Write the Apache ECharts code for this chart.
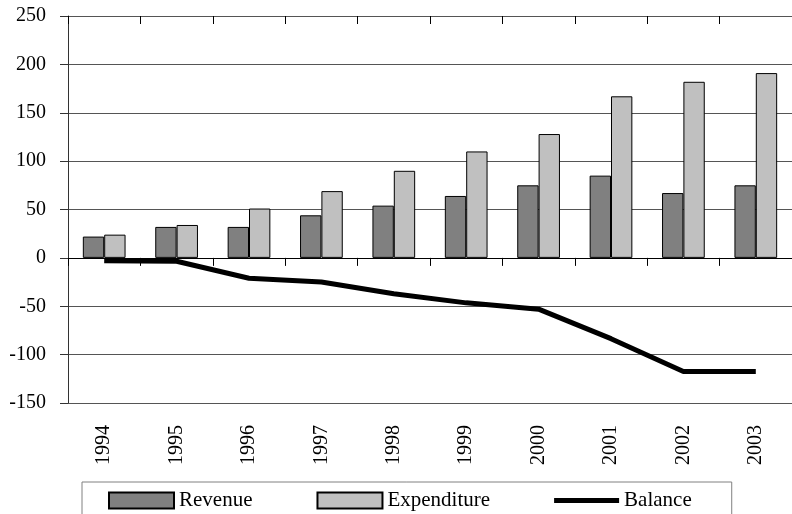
<!DOCTYPE html>
<html>
<head>
    <meta charset="UTF-8">
    <title>index.html</title>
    <script src="https://cdn.jsdelivr.net/npm/echarts@6/dist/echarts.min.js"></script>
    <style>
        body { margin: 0; background: #fff; }
    </style>
</head>
<body>
<div id="budgetChart" style="width: 792px;height:514px;"></div>
<script>
    // years on the category axis
    var years = ['1994', '1995', '1996', '1997', '1998', '1999', '2000', '2001', '2002', '2003'];
    // values
    var revenue = [22, 32, 32, 44, 54, 64, 75, 85, 67, 75];
    var expenditure = [24, 34, 51, 69, 90, 110, 128, 167, 182, 191];
    var balance = [-3, -3.5, -21, -25, -37, -46.5, -53, -83.5, -117.5, -117.5];
    var yTicks = [-150, -100, -50, 0, 50, 100, 150, 200, 250];

    var serif = 'Liberation Serif';
    var budgetChart = echarts.init(document.getElementById('budgetChart'));

    var option = {
        animation: false,
        backgroundColor: '#fff',
        textStyle: { fontFamily: serif },
        grid: { left: 68, right: -8, top: 16, bottom: 111, containLabel: false },
        legend: {
            left: 82,
            top: 482,
            padding: [8, 40, 12, 26],
            borderColor: '#808080',
            borderWidth: 1,
            itemWidth: 65,
            itemHeight: 16,
            itemGap: 64,
            textStyle: { fontFamily: serif, fontSize: 21, color: '#000' },
            data: [
                { name: 'Revenue', icon: 'rect' },
                { name: 'Expenditure', icon: 'rect' },
                { name: 'Balance', icon: 'path://M0,0H65V5H0Z', itemStyle: { color: '#000', borderWidth: 0 } }
            ]
        },
        xAxis: [
            {
                // axis through zero, ticks hanging down
                type: 'category',
                data: years,
                axisLine: { onZero: true, lineStyle: { color: '#000', width: 1 } },
                axisTick: { show: true, length: 8, lineStyle: { color: '#000' } },
                axisLabel: { show: false },
                splitLine: { show: false }
            },
            {
                // labels at the bottom
                type: 'category',
                data: years,
                position: 'bottom',
                axisLine: { show: false, onZero: false },
                axisTick: { show: false },
                axisLabel: {
                    rotate: 90,
                    margin: 22,
                    fontFamily: serif,
                    fontSize: 20,
                    color: '#000'
                }
            },
            {
                // upper half of the crossing ticks
                type: 'category',
                data: years,
                axisLine: { show: false, onZero: true },
                axisTick: { show: true, inside: true, length: 8, lineStyle: { color: '#000' } },
                axisLabel: { show: false }
            }
        ],
        yAxis: {
            type: 'value',
            min: yTicks[0],
            max: yTicks[yTicks.length - 1],
            interval: 50,
            axisLine: { show: true, lineStyle: { color: '#333', width: 1 } },
            axisTick: { show: true, length: 8, lineStyle: { color: '#333' } },
            axisLabel: { margin: 22, fontFamily: serif, fontSize: 20, color: '#000' },
            splitLine: { show: true, lineStyle: { color: '#555', width: 1 } }
        },
        series: [
            {
                name: 'Revenue',
                type: 'bar',
                xAxisIndex: 0,
                data: revenue,
                barGap: '0%',
                barCategoryGap: '41%',
                itemStyle: { color: '#808080', borderColor: '#000', borderWidth: 1 }
            },
            {
                name: 'Expenditure',
                type: 'bar',
                xAxisIndex: 0,
                data: expenditure,
                barGap: '0%',
                barCategoryGap: '41%',
                itemStyle: { color: '#c0c0c0', borderColor: '#000', borderWidth: 1 }
            },
            {
                name: 'Balance',
                type: 'line',
                xAxisIndex: 0,
                data: balance,
                symbol: 'none',
                lineStyle: { color: '#000', width: 5 },
                itemStyle: { color: '#000' },
                z: 5
            }
        ]
    };
    budgetChart.setOption(option);
</script>
</body>
</html>
